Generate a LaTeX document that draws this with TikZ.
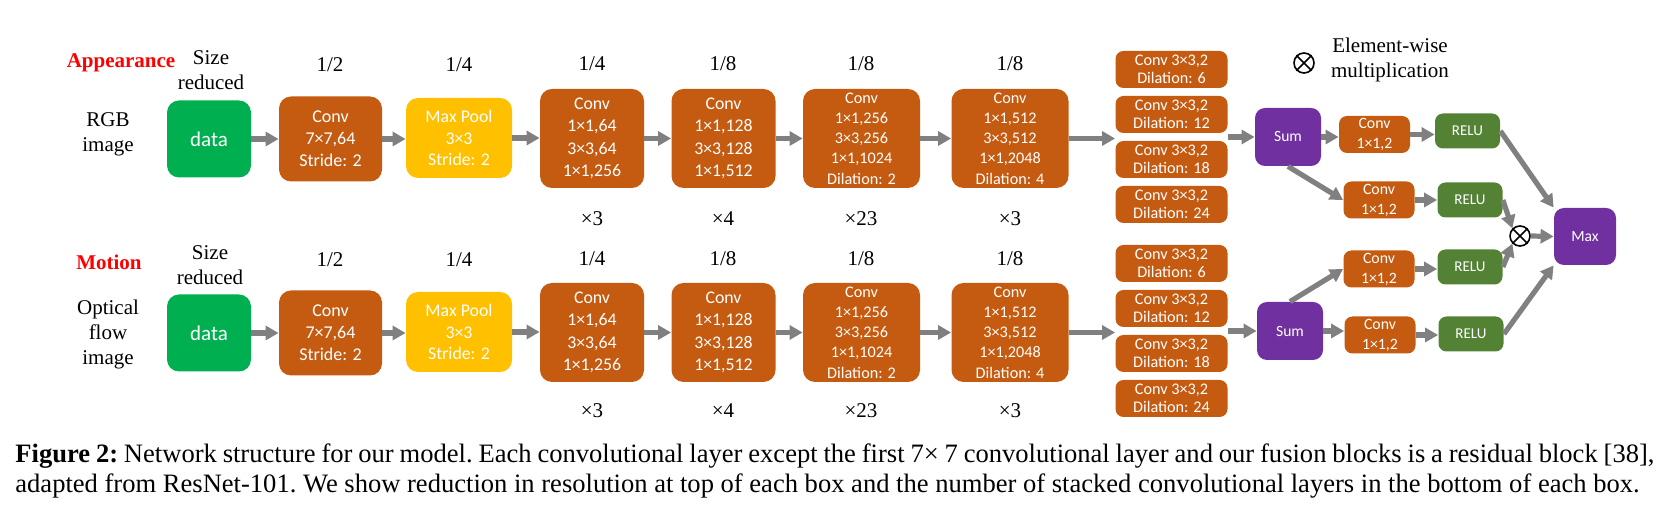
\documentclass[tikz,border=0pt]{standalone}
\usepackage{fontspec}
\setmainfont{Liberation Serif}
\newfontfamily\calfont{Carlito}
\usetikzlibrary{arrows.meta,calc}
\definecolor{orng}{HTML}{C55A11}
\definecolor{dgreen}{HTML}{00B050}
\definecolor{ylw}{HTML}{FFC000}
\definecolor{purp}{HTML}{7030A0}
\definecolor{rgreen}{HTML}{548235}
\definecolor{agray}{HTML}{808080}
\definecolor{lblred}{HTML}{FF0000}
\tikzset{
  box/.style={rectangle, rounded corners=6pt, inner sep=0pt, align=center, text=white},
  sbox/.style={rectangle, rounded corners=4pt, inner sep=0pt, align=center, text=white},
  datab/.style={box, fill=dgreen, minimum width=42pt, minimum height=38.5pt, font=\calfont\fontsize{10.5}{12}\selectfont},
  convone/.style={box, fill=orng, minimum width=51.5pt, minimum height=42.5pt, font=\calfont\fontsize{9}{10.9}\selectfont},
  poolb/.style={box, fill=ylw, minimum width=53pt, minimum height=40pt, font=\calfont\fontsize{8.9}{10.9}\selectfont},
  resa/.style={box, fill=orng, minimum width=52pt, minimum height=49.5pt, font=\calfont\fontsize{8.9}{11.2}\selectfont},
  resb/.style={box, fill=orng, minimum width=58.5pt, minimum height=49.5pt, font=\calfont\fontsize{8.1}{10.15}\selectfont},
  dilb/.style={sbox, fill=orng, minimum width=56pt, minimum height=18.5pt, font=\calfont\fontsize{8.1}{9.2}\selectfont},
  sumb/.style={box, rounded corners=5pt, fill=purp, minimum width=33pt, minimum height=29pt, font=\calfont\fontsize{7.8}{9}\selectfont},
  cs/.style={sbox, fill=orng, minimum width=35.5pt, minimum height=18.5pt, font=\calfont\fontsize{7.9}{10}\selectfont},
  relub/.style={sbox, fill=rgreen, minimum width=32.5pt, minimum height=17.5pt, font=\calfont\fontsize{7.5}{9}\selectfont},
  lbl/.style={inner sep=0pt, font=\fontsize{10.5}{12.5}\selectfont, align=center},
  redl/.style={lbl, text=lblred, font=\bfseries\fontsize{10.5}{12.5}\selectfont},
  capl/.style={anchor=base west, inner sep=0pt, font=\frenchspacing\fontsize{13.28}{15}\selectfont},
  arr/.style={draw=agray, line width=2.6pt, -{Triangle[length=6.5pt,width=7pt]}},
  otim/.style={circle, draw=black, line width=0.8pt, minimum size=10pt, inner sep=0pt}
}
\begin{document}
\begin{tikzpicture}[x=0.5pt,y=-0.5pt]
\useasboundingbox (0,0) rectangle (1671,512);
% ---------------- top stream ----------------
\node[redl] (appT) at (121,63) {Appearance};
\node[lbl] (szT) at (211,70) {Size\\reduced};
\node[lbl] (rgb) at (108,134) {RGB\\image};
\node[lbl] (fT1) at (330,65) {1/2};
\node[lbl] (fT2) at (459,65) {1/4};
\node[lbl] (fT3) at (592,64) {1/4};
\node[lbl] (fT4) at (723,64) {1/8};
\node[lbl] (fT5) at (861,64) {1/8};
\node[lbl] (fT6) at (1010,64) {1/8};
\node[lbl] (mT3) at (592,219) {×3};
\node[lbl] (mT4) at (723,219) {×4};
\node[lbl] (mT5) at (861,219) {×23};
\node[lbl] (mT6) at (1010,219) {×3};

\node[datab] (dataT) at (209,139) {data};
\node[convone] (c1T) at (330.5,139) {Conv\\7×7,64\\Stride: 2};
\node[poolb] (mpT) at (459,138) {Max Pool\\3×3\\Stride: 2};
\node[resa] (b3T) at (592,138.5) {Conv\\1×1,64\\3×3,64\\1×1,256};
\node[resa] (b4T) at (723.5,138.5) {Conv\\1×1,128\\3×3,128\\1×1,512};
\node[resb] (b5T) at (861.5,138.5) {Conv\\1×1,256\\3×3,256\\1×1,1024\\Dilation: 2};
\node[resb] (b6T) at (1010,138.5) {Conv\\1×1,512\\3×3,512\\1×1,2048\\Dilation: 4};
\node[dilb] (dT1) at (1171.5,69.5) {Conv 3×3,2\\Dilation: 6};
\node[dilb] (dT2) at (1171.5,114.5) {Conv 3×3,2\\Dilation: 12};
\node[dilb] (dT3) at (1171.5,159.5) {Conv 3×3,2\\Dilation: 18};
\node[dilb] (dT4) at (1171.5,204.5) {Conv 3×3,2\\Dilation: 24};
\node[sumb] (sumT) at (1288,137) {Sum};
\node[cs] (caT) at (1374.5,134.5) {Conv\\1×1,2};
\node[cs] (cbT) at (1379,200) {Conv\\1×1,2};
\node[relub] (raT) at (1467.5,131) {RELU};
\node[relub] (rbT) at (1470,200) {RELU};

% legend
\node[otim] (otl) at (1304,63) {};
\draw[line width=0.8pt] (otl.45) -- (otl.225) (otl.135) -- (otl.315);
\node[lbl] (ewl) at (1390,60) {Element-wise\\multiplication};

% ---------------- bottom stream ----------------
\node[redl] (motB) at (109,262) {Motion};
\node[lbl] (szB) at (210,265) {Size\\reduced};
\node[lbl] (ofl) at (108,334) {Optical\\flow\\image};
\node[lbl] (fB1) at (330,260) {1/2};
\node[lbl] (fB2) at (459,260) {1/4};
\node[lbl] (fB3) at (592,259) {1/4};
\node[lbl] (fB4) at (723,259) {1/8};
\node[lbl] (fB5) at (861,259) {1/8};
\node[lbl] (fB6) at (1010,259) {1/8};
\node[lbl] (mB3) at (592,411) {×3};
\node[lbl] (mB4) at (723,411) {×4};
\node[lbl] (mB5) at (861,411) {×23};
\node[lbl] (mB6) at (1010,411) {×3};

\node[datab] (dataB) at (209,333) {data};
\node[convone] (c1B) at (330.5,333) {Conv\\7×7,64\\Stride: 2};
\node[poolb] (mpB) at (459,332) {Max Pool\\3×3\\Stride: 2};
\node[resa] (b3B) at (592,332.5) {Conv\\1×1,64\\3×3,64\\1×1,256};
\node[resa] (b4B) at (723.5,332.5) {Conv\\1×1,128\\3×3,128\\1×1,512};
\node[resb] (b5B) at (861.5,332.5) {Conv\\1×1,256\\3×3,256\\1×1,1024\\Dilation: 2};
\node[resb] (b6B) at (1010,332.5) {Conv\\1×1,512\\3×3,512\\1×1,2048\\Dilation: 4};
\node[dilb] (dB1) at (1171.5,263.5) {Conv 3×3,2\\Dilation: 6};
\node[dilb] (dB2) at (1171.5,308.5) {Conv 3×3,2\\Dilation: 12};
\node[dilb] (dB3) at (1171.5,353.5) {Conv 3×3,2\\Dilation: 18};
\node[dilb] (dB4) at (1171.5,398.5) {Conv 3×3,2\\Dilation: 24};
\node[sumb] (sumB) at (1290,331) {Sum};
\node[cs] (caB) at (1379,269) {Conv\\1×1,2};
\node[cs] (cbB) at (1380,335) {Conv\\1×1,2};
\node[relub] (raB) at (1470,267) {RELU};
\node[relub] (rbB) at (1471,334) {RELU};

% fusion
\node[otim] (ot) at (1520,236) {};
\draw[line width=0.8pt] (ot.45) -- (ot.225) (ot.135) -- (ot.315);
\node[sumb, minimum width=31pt, minimum height=28.5pt] (maxn) at (1585,236.5) {Max};

% ---------------- arrows ----------------
\foreach \s in {T,B}{
  \draw[arr] (data\s.east) -- (data\s.east -| c1\s.west);
  \draw[arr] (c1\s.east) -- (c1\s.east -| mp\s.west);
  \draw[arr] (mp\s.east) -- (mp\s.east -| b3\s.west);
  \draw[arr] (b3\s.east) -- (b3\s.east -| b4\s.west);
  \draw[arr] (b4\s.east) -- (b4\s.east -| b5\s.west);
  \draw[arr] (b5\s.east) -- (b5\s.east -| b6\s.west);
  \draw[arr] (b6\s.east) -- (b6\s.east -| d\s2.west);
  \draw[arr] (d\s2.east |- sum\s.west) -- (sum\s.west);
  \draw[arr] (ca\s.east) -- (ca\s.east -| ra\s.west);
  \draw[arr] (cb\s.east) -- (cb\s.east -| rb\s.west);
}
\draw[arr] (sumT.east) -- (sumT.east -| caT.west);
\draw[arr] (sumT.south) -- (cbT.west);
\draw[arr] (sumB.north) -- (caB.west);
\draw[arr] (sumB.east) -- (sumB.east -| cbB.west);
\draw[arr] (raT.east) -- (maxn.north west);
\draw[arr] (rbT.east) -- (ot.135);
\draw[arr] (raB.east) -- (ot.225);
\draw[arr] (rbB.east) -- (maxn.south west);
\draw[arr] (ot.east) -- (maxn.west);

% ---------------- caption ----------------
\node[capl] (cap1) at (15,463)
  {\makebox[819.5pt][s]{\textbf{Figure 2:} Network structure for our model. Each convolutional layer except the first 7× 7 convolutional layer and our fusion blocks is a residual block [38],}};
\node[capl] (cap2) at (15,493)
  {adapted from ResNet-101. We show reduction in resolution at top of each box and the number of stacked convolutional layers in the bottom of each box.};
\end{tikzpicture}
\end{document}
